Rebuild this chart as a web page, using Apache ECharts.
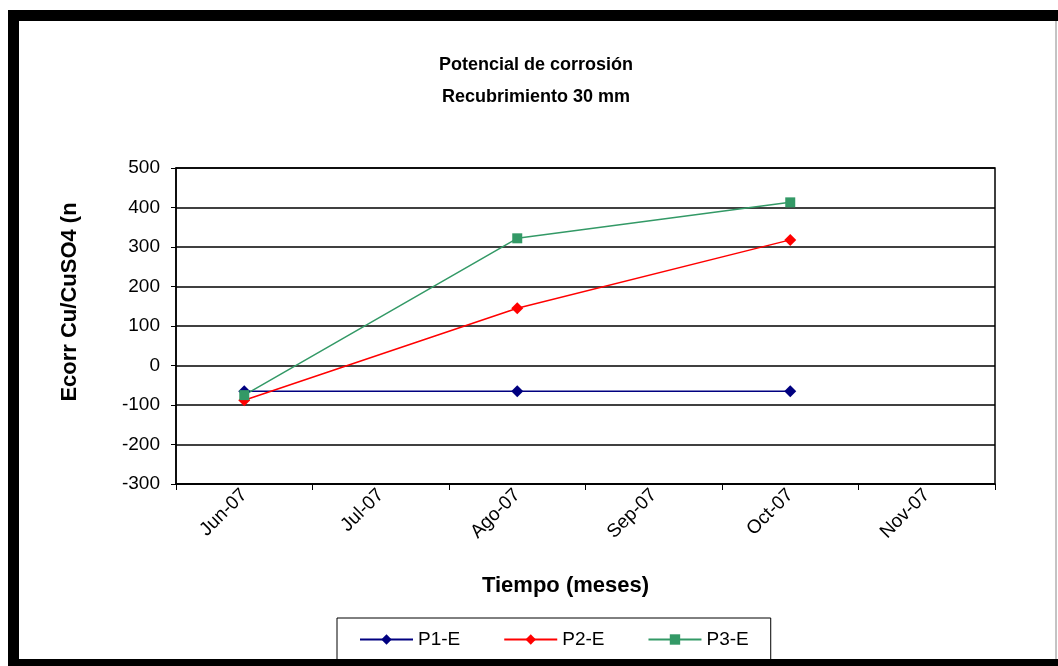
<!DOCTYPE html>
<html>
<head>
<meta charset="utf-8">
<script src="https://cdn.jsdelivr.net/npm/echarts@6/dist/echarts.min.js"></script>
<style>
html,body{margin:0;padding:0;background:#fff;}
#chart{width:1058px;height:666px;}
</style>
</head>
<body>
<div id="chart"></div>
<script>
const categories = ['Jun-07', 'Jul-07', 'Ago-07', 'Sep-07', 'Oct-07', 'Nov-07'];
const p1 = [-65, null, -65, null, -65, null];
const p2 = [-88, null, 145, null, 318, null];
const p3 = [-75, null, 322, null, 413, null];
const seriesNames = ['P1-E', 'P2-E', 'P3-E'];
const yTicks = { min: -300, max: 500, interval: 100 };

const chart = echarts.init(document.getElementById('chart'), null, { renderer: 'canvas' });
const font = 'Liberation Sans, Arial, sans-serif';
const mk = (name, data, color, symbol, size) => ({
  name, type: 'line', data, connectNulls: true,
  symbol, symbolSize: size, showSymbol: true,
  lineStyle: { color, width: 1.5 },
  itemStyle: { color },
  emphasis: { disabled: true }, animation: false
});

chart.setOption({
  backgroundColor: '#fff',
  animation: false,
  title: {
    text: 'Potencial de corrosión\nRecubrimiento 30 mm',
    left: 531, top: 44, textAlign: 'center',
    textStyle: { fontFamily: font, fontSize: 18, fontWeight: 'bold', color: '#000', lineHeight: 32 }
  },
  legend: {
    data: seriesNames,
    left: 337, top: 618,
    padding: [12, 22, 12, 22],
    itemWidth: 53, itemHeight: 13, itemGap: 43,
    borderColor: '#000', borderWidth: 1,
    textStyle: { fontFamily: font, fontSize: 19, color: '#000' }
  },
  grid: {
    left: 176, right: 63, top: 168, bottom: 182,
    show: true, borderColor: '#000', borderWidth: 1.5
  },
  xAxis: {
    type: 'category', data: categories, boundaryGap: true,
    name: 'Tiempo (meses)', nameLocation: 'middle', nameGap: 91,
    nameTextStyle: { fontFamily: font, fontSize: 22, fontWeight: 'bold', color: '#000', padding: [0, 40, 0, 0] },
    axisLine: { onZero: false, lineStyle: { color: '#000', width: 1.5 } },
    axisTick: { show: true, inside: false, length: 6, lineStyle: { color: '#000' } },
    axisLabel: { rotate: 45, margin: 8, fontFamily: font, fontSize: 19, color: '#000', interval: 0 },
    splitLine: { show: false }
  },
  yAxis: {
    type: 'value', min: yTicks.min, max: yTicks.max, interval: yTicks.interval,
    name: 'Ecorr Cu/CuSO4 (n', nameLocation: 'middle', nameGap: 95,
    nameTextStyle: { fontFamily: font, fontSize: 22, fontWeight: 'bold', color: '#000', padding: [0, 0, 0, 48] },
    axisLine: { show: true, onZero: false, lineStyle: { color: '#000', width: 1.5 } },
    axisTick: { show: true, inside: false, length: 5, lineStyle: { color: '#000' } },
    axisLabel: { margin: 16, fontFamily: font, fontSize: 19, color: '#000' },
    splitLine: { show: true, lineStyle: { color: '#000', width: 1.5 } }
  },
  graphic: [
    { type: 'rect', shape: { x: 8, y: 10, width: 1050, height: 11 }, style: { fill: '#000' }, z: 100 },
    { type: 'rect', shape: { x: 8, y: 10, width: 11, height: 656 }, style: { fill: '#000' }, z: 100 },
    { type: 'rect', shape: { x: 8, y: 659, width: 1050, height: 7 }, style: { fill: '#000' }, z: 100 },
    { type: 'line', shape: { x1: 1056, y1: 21, x2: 1056, y2: 659 }, style: { stroke: '#888', lineWidth: 1 }, z: 100 }
  ],
  series: [
    mk(seriesNames[0], p1, '#000080', 'diamond', 12),
    mk(seriesNames[1], p2, '#ff0000', 'diamond', 12),
    mk(seriesNames[2], p3, '#339966', 'rect', 10)
  ]
});
</script>
</body>
</html>
